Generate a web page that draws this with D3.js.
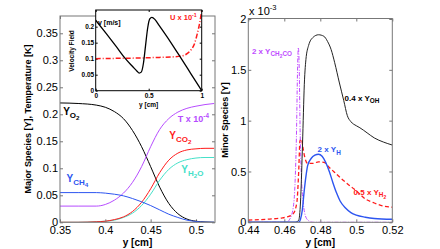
<!DOCTYPE html>
<html>
<head>
<meta charset="utf-8">
<script src="https://cdn.jsdelivr.net/npm/d3@7"></script>
<style>
  body { margin: 0; background: #fff; }
  text { font-family: "Liberation Sans", Arial, Helvetica, sans-serif; }
</style>
</head>
<body>
<svg width="440" height="249"></svg>
<script>
// ---- major species (left panel) ----
var majorX = [0.35, 0.37, 0.39, 0.40, 0.41, 0.42, 0.43, 0.44, 0.45, 0.46, 0.47, 0.48, 0.49, 0.50, 0.51, 0.52];
var yO2  = [0.221, 0.220, 0.217, 0.213, 0.205, 0.192, 0.170, 0.140, 0.103, 0.065, 0.035, 0.016, 0.006, 0.002, 0.0005, 0];
var tempScaled = [0.030, 0.030, 0.030, 0.033, 0.041, 0.054, 0.074, 0.103, 0.140, 0.172, 0.192, 0.204, 0.211, 0.215, 0.218, 0.220];
var yCH4 = [0.055, 0.055, 0.055, 0.054, 0.052, 0.049, 0.044, 0.038, 0.031, 0.023, 0.015, 0.009, 0.004, 0.0015, 0.0004, 0.0001];
var yCO2 = [0, 0, 0.001, 0.002, 0.005, 0.010, 0.020, 0.037, 0.062, 0.092, 0.115, 0.128, 0.134, 0.136, 0.137, 0.137];
var yH2O = [0, 0, 0.001, 0.002, 0.004, 0.009, 0.017, 0.031, 0.052, 0.078, 0.098, 0.110, 0.116, 0.119, 0.120, 0.120];
var majorXTicks = [0.35, 0.4, 0.45, 0.5];
var majorYTicks = [0, 0.05, 0.1, 0.15, 0.2, 0.25, 0.3, 0.35];

// ---- velocity field (inset) ----
var velX = [0, 0.1, 0.2, 0.28, 0.35, 0.39, 0.41, 0.43, 0.45, 0.47, 0.49, 0.51, 0.53, 0.56, 0.6, 0.7, 0.8, 0.9, 1.0];
var velV = [0.220, 0.178, 0.135, 0.100, 0.075, 0.061, 0.055, 0.058, 0.085, 0.140, 0.195, 0.224, 0.229, 0.222, 0.203, 0.155, 0.104, 0.052, 0.0];
var uX = [0, 0.2, 0.4, 0.6, 0.75, 0.8, 0.85, 0.9, 0.93, 0.96, 0.98, 1.0];
var uV = [0.100, 0.101, 0.102, 0.104, 0.106, 0.108, 0.113, 0.128, 0.145, 0.180, 0.210, 0.250];
var velXTicks = [0, 0.5, 1];
var velYTicks = [0, 0.05, 0.1, 0.15, 0.2];

// ---- minor species (right panel), units of 1e-3 ----
var ohX = [0.44, 0.466, 0.468, 0.469, 0.470, 0.4705, 0.471, 0.472, 0.4735, 0.476, 0.479, 0.482, 0.484, 0.486, 0.488, 0.4905, 0.493, 0.495, 0.497, 0.500, 0.502, 0.506, 0.510, 0.515, 0.520];
var ohY = [0, 0, 0.02, 0.2, 0.7, 1.0, 1.3, 1.6, 1.74, 1.82, 1.845, 1.83, 1.78, 1.70, 1.57, 1.38, 1.20, 1.05, 0.99, 0.95, 0.93, 0.88, 0.83, 0.79, 0.76];
var hX = [0.44, 0.468, 0.469, 0.470, 0.471, 0.472, 0.473, 0.475, 0.477, 0.479, 0.481, 0.483, 0.485, 0.487, 0.489, 0.491, 0.494, 0.497, 0.500, 0.505, 0.510, 0.520];
var hY = [0, 0, 0.03, 0.12, 0.30, 0.45, 0.56, 0.63, 0.66, 0.67, 0.65, 0.59, 0.50, 0.39, 0.29, 0.21, 0.14, 0.095, 0.07, 0.05, 0.038, 0.03];
var h2X = [0.440, 0.450, 0.458, 0.462, 0.465, 0.467, 0.468, 0.4687, 0.4695, 0.4705, 0.4715, 0.473, 0.476, 0.479, 0.482, 0.485, 0.488, 0.491, 0.495, 0.500, 0.505, 0.510, 0.515, 0.520];
var h2Y = [0.022, 0.030, 0.042, 0.055, 0.085, 0.20, 0.50, 0.80, 0.82, 0.72, 0.63, 0.58, 0.58, 0.595, 0.59, 0.54, 0.49, 0.44, 0.38, 0.31, 0.23, 0.19, 0.16, 0.148];
var ch2coX = [0.44, 0.461, 0.463, 0.465, 0.466, 0.4668, 0.4673, 0.4678, 0.4683, 0.4688, 0.4695, 0.4705, 0.472, 0.474, 0.476, 0.52];
var ch2coY = [0, 0, 0.03, 0.15, 0.40, 0.90, 1.45, 1.72, 1.50, 0.90, 0.45, 0.20, 0.05, 0.01, 0, 0];
var minorXTicks = [0.44, 0.46, 0.48, 0.5, 0.52];
var minorYTicks = [0, 0.5, 1, 1.5, 2];

var svg = d3.select("svg");
var axisColor = "#777";

function zip(xs, ys) { return xs.map(function(x, i) { return [x, ys[i]]; }); }

// boxed MATLAB-style axes with inward ticks on all four sides
function makeAxes(name, box, xDomain, yDomain, xTicks, yTicks, fmtX, fmtY, fs, bold, stroke) {
    var x = d3.scaleLinear().domain(xDomain).range([box.l, box.r]);
    var y = d3.scaleLinear().domain(yDomain).range([box.b, box.t]);
    var g = svg.append("g").attr("class", name);
    g.append("rect").attr("x", box.l).attr("y", box.t)
        .attr("width", box.r - box.l).attr("height", box.b - box.t)
        .attr("fill", "#fff").attr("stroke", "none");
    g.append("clipPath").attr("id", "clip-" + name).append("rect")
        .attr("x", box.l).attr("y", box.t).attr("width", box.r - box.l).attr("height", box.b - box.t);

    function style(sel) {
        sel.select(".domain").remove();
        sel.selectAll(".tick line").attr("stroke", stroke);
        sel.selectAll("text").attr("fill", "#000").attr("font-size", fs)
            .attr("font-weight", bold ? "bold" : "normal");
        sel.attr("font-family", null);
    }
    var tk = box.tick;
    g.append("g").attr("transform", "translate(0," + box.b + ")")
        .call(d3.axisBottom(x).tickValues(xTicks).tickFormat(fmtX).tickSize(-tk).tickPadding(box.padX)).call(style);
    g.append("g").attr("transform", "translate(0," + box.t + ")")
        .call(d3.axisTop(x).tickValues(xTicks).tickFormat("").tickSize(-tk)).call(style);
    g.append("g").attr("transform", "translate(" + box.l + ",0)")
        .call(d3.axisLeft(y).tickValues(yTicks).tickFormat(fmtY).tickSize(-tk).tickPadding(box.padY)).call(style);
    g.append("g").attr("transform", "translate(" + box.r + ",0)")
        .call(d3.axisRight(y).tickValues(yTicks).tickFormat("").tickSize(-tk)).call(style);

    var plot = g.append("g").attr("clip-path", "url(#clip-" + name + ")");
    g.append("rect").attr("x", box.l).attr("y", box.t)
        .attr("width", box.r - box.l).attr("height", box.b - box.t)
        .attr("fill", "none").attr("stroke", stroke).attr("stroke-width", 1);
    return { g: g, plot: plot, x: x, y: y };
}

function addLine(ax, xs, ys, color, width, dash) {
    var line = d3.line().x(function(d) { return ax.x(d[0]); }).y(function(d) { return ax.y(d[1]); })
        .curve(d3.curveMonotoneX);
    ax.plot.append("path").datum(zip(xs, ys)).attr("d", line)
        .attr("fill", "none").attr("stroke", color).attr("stroke-width", width)
        .attr("stroke-dasharray", dash || null);
}

// label with sub/superscripts: parts = [[text, level]], 0 normal, 1 sub, 2 subsub, -1 sup
function addLabel(g, px, py, color, parts, fs) {
    var t = g.append("text").attr("x", px).attr("y", py).attr("fill", color)
        .attr("font-size", fs).attr("font-weight", "bold");
    var cur = 0;
    var shift = { "0": 0, "1": 0.3, "2": 0.5, "-1": -0.45 };
    var size = { "0": 1, "1": 0.8, "2": 0.62, "-1": 0.7 };
    parts.forEach(function(p) {
        var lv = p[1];
        var dy = (shift[lv] - shift[cur]) * fs;
        t.append("tspan").attr("dy", dy).attr("font-size", fs * size[lv]).text(p[0]);
        cur = lv;
    });
    return t;
}

var fmt = function(d) { return String(+d.toFixed(3)); };

// ---------- left: major species ----------
var left = makeAxes("major", { l: 60, r: 215, t: 16, b: 222.3, tick: 3, padX: 4, padY: 2 },
    [0.35, 0.521], [0, 0.382], majorXTicks, majorYTicks, fmt, fmt, 11, false, axisColor);

addLine(left, majorX, yO2, "#000", 1);
addLine(left, majorX, tempScaled, "#b64cff", 1);
addLine(left, majorX, yH2O, "#44e0c8", 1);
addLine(left, majorX, yCO2, "#ff1a1a", 1);
addLine(left, majorX, yCH4, "#2d55f0", 1);

addLabel(left.g, left.x(0.3535), left.y(0.199), "#000", [["Y", 0], ["O", 1], ["2", 2]], 10);
addLabel(left.g, left.x(0.480), left.y(0.185), "#b64cff", [["T x 10", 0], ["-4", -1]], 9);
addLabel(left.g, left.x(0.4706), left.y(0.154), "#ff1a1a", [["Y", 0], ["CO", 1], ["2", 2]], 10);
addLabel(left.g, left.x(0.4839), left.y(0.092), "#44e0c8", [["Y", 0], ["H", 1], ["2", 2], ["O", 1]], 10);
addLabel(left.g, left.x(0.3573), left.y(0.0752), "#2d55f0", [["Y", 0], ["CH", 1], ["4", 2]], 10);

svg.append("text").attr("transform", "translate(31,119) rotate(-90)")
    .attr("text-anchor", "middle").attr("font-size", 9).attr("font-weight", "bold")
    .text("Major Species [Y], Temperature [K]");
svg.append("text").attr("x", 137.5).attr("y", 246).attr("text-anchor", "middle")
    .attr("font-size", 10).attr("font-weight", "bold").text("y [cm]");

// ---------- inset: velocity field ----------
var inset = makeAxes("vel", { l: 95.7, r: 201.7, t: 10, b: 90.7, tick: 2, padX: 3, padY: 1.5 },
    [0, 1], [0, 0.252], velXTicks, velYTicks, fmt, fmt, 6.5, true, "#000");
addLine(inset, uX, uV, "#ff1a1a", 1.5, "5,2,1,2");
addLine(inset, velX, velV, "#000", 1.3);
addLabel(inset.g, 98, 25, "#000", [["v [m/s]", 0]], 7);
addLabel(inset.g, 170, 20, "#ff1a1a", [["U x 10", 0], ["-1", -1]], 7.5);
svg.append("text").attr("transform", "translate(74,51) rotate(-90)")
    .attr("text-anchor", "middle").attr("font-size", 6.5).attr("font-weight", "bold")
    .text("Velocity Field");
svg.append("text").attr("x", 148.7).attr("y", 107).attr("text-anchor", "middle")
    .attr("font-size", 6.5).attr("font-weight", "bold").text("y [cm]");

// ---------- right: minor species ----------
var right = makeAxes("minor", { l: 248.3, r: 392.3, t: 18.5, b: 222.3, tick: 3, padX: 4, padY: 2 },
    [0.44, 0.52], [0, 2.005], minorXTicks, minorYTicks, fmt, fmt, 11, false, axisColor);

addLine(right, h2X, h2Y, "#ff1a1a", 1.3, "4,2.5");
addLine(right, ch2coX, ch2coY, "#c04cff", 1, "4,1.5,1,1.5");
addLine(right, ohX, ohY, "#222", 1);
addLine(right, hX, hY, "#2d55f0", 1.4);

svg.append("text").attr("x", 249).attr("y", 15).attr("font-size", 11).text("x 10")
    .append("tspan").attr("dy", -5).attr("font-size", 7.5).text("-3");

addLabel(right.g, right.x(0.442), right.y(1.66), "#c04cff", [["2 x Y", 0], ["CH", 1], ["2", 2], ["CO", 1]], 8);
addLabel(right.g, right.x(0.4935), right.y(1.195), "#000", [["0.4 x Y", 0], ["OH", 1]], 8);
addLabel(right.g, right.x(0.4785), right.y(0.69), "#2d55f0", [["2 x Y", 0], ["H", 1]], 8);
addLabel(right.g, right.x(0.4985), right.y(0.27), "#ff1a1a", [["0.5 x Y", 0], ["H", 1], ["2", 2]], 8);

svg.append("text").attr("transform", "translate(228,120) rotate(-90)")
    .attr("text-anchor", "middle").attr("font-size", 9).attr("font-weight", "bold")
    .text("Minor Species [Y]");
svg.append("text").attr("x", 320.3).attr("y", 246).attr("text-anchor", "middle")
    .attr("font-size", 10).attr("font-weight", "bold").text("y [cm]");
</script>
</body>
</html>
